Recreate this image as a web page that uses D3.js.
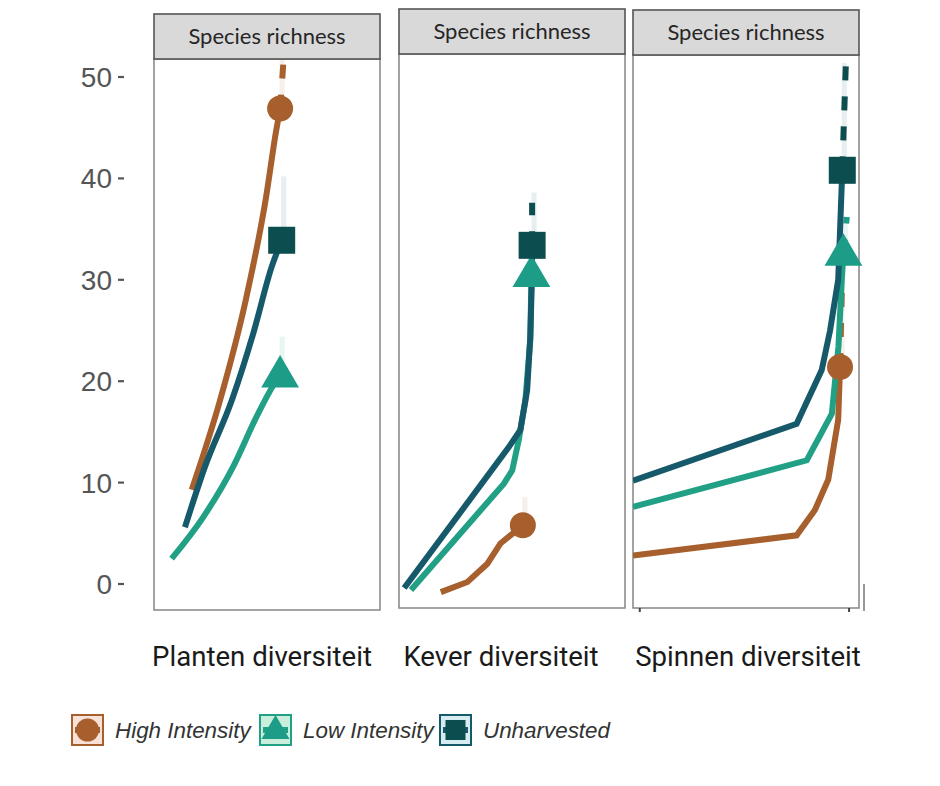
<!DOCTYPE html>
<html>
<head>
<meta charset="utf-8">
<script src="https://cdn.jsdelivr.net/npm/d3@7"></script>
<style>
  body { margin: 0; background: #fff; }
  svg { display: block; }
</style>
</head>
<body>
<div id="chart"></div>
<script>
// values; x is relative sample size (0-100 per facet)
var facetTitles = ["Planten diversiteit", "Kever diversiteit", "Spinnen diversiteit"];
var stripLabel = "Species richness";
var groups = ["High Intensity", "Low Intensity", "Unharvested"];
var yTicks = [0, 10, 20, 30, 40, 50];

// Planten
var plantHigh = [[16.7, 9.3], [29.2, 18.1], [40.6, 28.0], [49.4, 37.9], [53.9, 44.5], [55.8, 46.9]];
var plantHighExt = [[55.8, 46.9], [56.8, 50.0], [57.6, 52.6]];
var plantLow = [[7.8, 2.5], [21.8, 6.6], [35.1, 11.6], [45.4, 16.5], [52.8, 19.6], [55.8, 20.6]];
var plantLowExt = [];
var plantUnh = [[13.7, 5.6], [22.6, 11.6], [34.4, 18.1], [43.9, 24.7], [52.1, 31.3], [56.5, 33.9]];
var plantUnhExt = [];
var plantCiTop = [52.4, 24.4, 40.2];

// Kever
var keverHigh = [[18.5, -0.8], [30.3, 0.2], [39.1, 2.0], [44.9, 4.0], [54.8, 5.8]];
var keverHighExt = [];
var keverLow = [[5.3, -0.6], [46.4, 9.9], [50.1, 11.2], [53.0, 14.2], [55.9, 18.1], [58.1, 24.1], [58.6, 30.5]];
var keverLowExt = [];
var keverUnh = [[2.3, -0.4], [48.6, 13.5], [53.7, 15.2], [56.7, 19.1], [58.1, 24.4], [58.8, 30.0], [58.9, 33.4]];
var keverUnhExt = [[58.9, 33.4], [58.9, 37.6]];
var keverCiTop = [8.6, 31.0, 38.6];

// Spinnen
var spinHigh = [[0, 2.8], [72.4, 4.8], [80.5, 7.3], [86.4, 10.3], [90.8, 16.2], [91.6, 21.4]];
var spinHighExt = [[91.6, 21.4], [92.4, 28.8]];
var spinLow = [[0, 7.6], [76.9, 12.2], [88.0, 16.8], [90.9, 23.4], [92.4, 30.0], [93.1, 32.6]];
var spinLowExt = [[93.1, 32.6], [94.6, 36.2]];
var spinUnh = [[0, 10.2], [72.4, 15.8], [83.5, 21.1], [87.2, 25.0], [90.8, 30.0], [92.6, 40.8]];
var spinUnhExt = [[92.6, 40.8], [94.2, 51.4]];
var spinCiTop = [29.0, 36.2, 51.4];
var spinTicks = [3, 95.6];

var facets = [
  {series: [plantHigh, plantLow, plantUnh], ext: [plantHighExt, plantLowExt, plantUnhExt], ci: plantCiTop},
  {series: [keverHigh, keverLow, keverUnh], ext: [keverHighExt, keverLowExt, keverUnhExt], ci: keverCiTop},
  {series: [spinHigh, spinLow, spinUnh], ext: [spinHighExt, spinLowExt, spinUnhExt], ci: spinCiTop, ticks: spinTicks}
];

var lineColor = ["#a65f2d", "#21a085", "#16596b"];
var markColor = ["#a65f2d", "#1d9c88", "#0c4d4f"];
var paleColor = ["#f8e2d8", "#c9eedb", "#d7ecee"];

// panel boxes (the source is a pasted composite, so they do not line up exactly)
var boxes = [
  {x0: 154, x1: 380, top: 14, bottom: 610, label: 262},
  {x0: 399, x1: 625, top: 9, bottom: 608, label: 501},
  {x0: 633, x1: 859, top: 10, bottom: 608, label: 748}
];
var stripH = 45;
// first facet is a smooth fit, the others are drawn as polylines
var curves = [d3.curveMonotoneX, d3.curveLinear, d3.curveLinear];

var width = 940, height = 786;

var svg = d3.select("#chart").append("svg")
    .attr("width", width)
    .attr("height", height);

var y = d3.scaleLinear().domain([0, 50]).range([584, 77]);

// y axis, drawn by hand to look like the ggplot one
var yAxis = svg.append("g");
yAxis.selectAll("text")
    .data(yTicks)
    .enter()
    .append("text")
        .attr("x", 112)
        .attr("y", function(d) { return y(d); })
        .attr("dy", "0.36em")
        .attr("text-anchor", "end")
        .style("font-family", "Liberation Sans, Arial, sans-serif")
        .style("font-size", "28px")
        .style("fill", "#555")
        .text(function(d) { return d; });
yAxis.selectAll("line")
    .data(yTicks)
    .enter()
    .append("line")
        .attr("x1", 118).attr("x2", 124)
        .attr("y1", function(d) { return y(d); })
        .attr("y2", function(d) { return y(d); })
        .attr("stroke", "#555")
        .attr("stroke-width", 2.2);

function markPath(g, i, cx, cy, size) {
    if (i == 0) {
        g.append("circle").attr("cx", cx).attr("cy", cy).attr("r", size / 2).attr("fill", markColor[i]);
    } else if (i == 1) {
        var w = size * 1.4, h = size * 1.2;
        g.append("path")
            .attr("d", "M" + cx + "," + (cy - h * 0.62) + "L" + (cx + w / 2) + "," + (cy + h * 0.38) +
                "L" + (cx - w / 2) + "," + (cy + h * 0.38) + "Z")
            .attr("fill", markColor[i]);
    } else {
        g.append("rect").attr("x", cx - size / 2).attr("y", cy - size / 2)
            .attr("width", size).attr("height", size).attr("fill", markColor[i]);
    }
}

facets.forEach(function(f, p) {
    var b = boxes[p];
    var x = d3.scaleLinear().domain([0, 100]).range([b.x0, b.x1]);
    var line = d3.line().curve(curves[p]);
    var g = svg.append("g");

    g.append("rect")
        .attr("x", b.x0).attr("y", b.top + stripH)
        .attr("width", b.x1 - b.x0).attr("height", b.bottom - b.top - stripH)
        .attr("fill", "#fff")
        .attr("stroke", "#8c8c8c")
        .attr("stroke-width", 1.6);

    g.append("clipPath").attr("id", "clip" + p)
        .append("rect")
        .attr("x", b.x0).attr("y", b.top + stripH)
        .attr("width", b.x1 - b.x0).attr("height", b.bottom - b.top - stripH);

    var inner = g.append("g").attr("clip-path", "url(#clip" + p + ")");

    // faint confidence ribbons above the observed points
    f.series.forEach(function(s, i) {
        var last = s[s.length - 1];
        inner.append("line")
            .attr("x1", x(last[0]) + 2).attr("x2", x(last[0]) + 2)
            .attr("y1", y(last[1])).attr("y2", y(f.ci[i]))
            .attr("stroke", lineColor[i])
            .attr("stroke-opacity", 0.1)
            .attr("stroke-width", 5);
    });

    f.series.forEach(function(s, i) {
        inner.append("path")
            .attr("d", line(s.map(function(d) { return [x(d[0]), y(d[1])]; })))
            .attr("fill", "none")
            .attr("stroke", lineColor[i])
            .attr("stroke-width", 6);
        if (f.ext[i].length) {
            inner.append("path")
                .attr("d", line(f.ext[i].map(function(d) { return [x(d[0]), y(d[1])]; })))
                .attr("fill", "none")
                .attr("stroke", markColor[i])
                .attr("stroke-width", 6)
                .attr("stroke-dasharray", "14,16");
        }
    });

    f.series.forEach(function(s, i) {
        var last = s[s.length - 1];
        markPath(g, i, x(last[0]), y(last[1]), i == 0 ? 26 : 27);
    });

    if (f.ticks) {
        g.selectAll(".xt")
            .data(f.ticks)
            .enter()
            .append("line")
                .attr("x1", function(d) { return x(d); })
                .attr("x2", function(d) { return x(d); })
                .attr("y1", b.bottom).attr("y2", b.bottom + 4)
                .attr("stroke", "#444")
                .attr("stroke-width", 2);
        g.append("line")
            .attr("x1", b.x1 + 5).attr("x2", b.x1 + 5)
            .attr("y1", b.bottom - 24).attr("y2", b.bottom + 3)
            .attr("stroke", "#777")
            .attr("stroke-width", 1.5);
    }

    // strip
    g.append("rect")
        .attr("x", b.x0).attr("y", b.top)
        .attr("width", b.x1 - b.x0).attr("height", stripH)
        .attr("fill", "#d9d9d9")
        .attr("stroke", "#555")
        .attr("stroke-width", 1.6);
    g.append("text")
        .attr("x", (b.x0 + b.x1) / 2)
        .attr("y", b.top + stripH / 2)
        .attr("dy", "0.35em")
        .attr("text-anchor", "middle")
        .style("font-family", "Lato, sans-serif")
        .style("font-size", "22px")
        .style("fill", "#262626")
        .text(stripLabel);

    svg.append("text")
        .attr("x", b.label)
        .attr("y", 666)
        .attr("text-anchor", "middle")
        .style("font-family", "Roboto, sans-serif")
        .style("font-size", "27.6px")
        .style("fill", "#1a1a1a")
        .text(facetTitles[p]);
});

// legend
var legendX = [72, 260, 440];
var legend = svg.append("g");
groups.forEach(function(name, i) {
    var kx = legendX[i], ky = 715;
    var k = legend.append("g");
    k.append("rect")
        .attr("x", kx).attr("y", ky).attr("width", 31).attr("height", 30)
        .attr("fill", paleColor[i])
        .attr("stroke", lineColor[i])
        .attr("stroke-width", 2);
    k.append("line")
        .attr("x1", kx + 3).attr("x2", kx + 28)
        .attr("y1", ky + 15).attr("y2", ky + 15)
        .attr("stroke", lineColor[i])
        .attr("stroke-width", 6);
    markPath(k, i, kx + 15.5, ky + 15, i == 0 ? 23 : 20);
    legend.append("text")
        .attr("x", kx + 43)
        .attr("y", ky + 23)
        .style("font-family", "Liberation Sans, Arial, sans-serif")
        .style("font-style", "italic")
        .style("font-size", "22.4px")
        .style("fill", "#333")
        .text(name);
});
</script>
</body>
</html>
